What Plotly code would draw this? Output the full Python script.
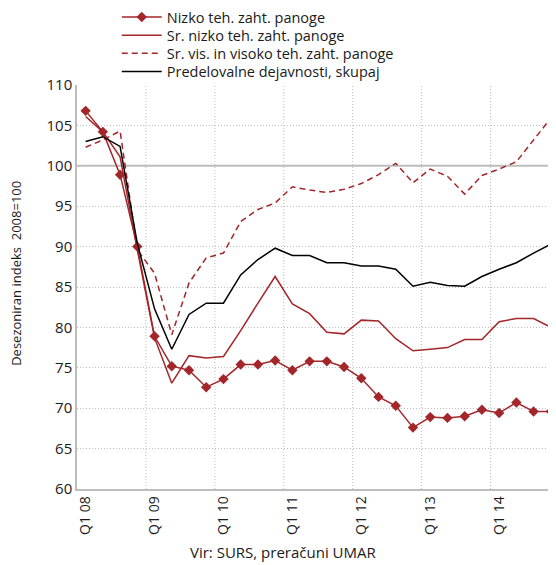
import plotly.graph_objects as go

quarters = [
    "Q1 08", "Q2 08", "Q3 08", "Q4 08",
    "Q1 09", "Q2 09", "Q3 09", "Q4 09",
    "Q1 10", "Q2 10", "Q3 10", "Q4 10",
    "Q1 11", "Q2 11", "Q3 11", "Q4 11",
    "Q1 12", "Q2 12", "Q3 12", "Q4 12",
    "Q1 13", "Q2 13", "Q3 13", "Q4 13",
    "Q1 14", "Q2 14", "Q3 14", "Q4 14",
]
tick_labels = ["Q1 08", "Q1 09", "Q1 10", "Q1 11", "Q1 12", "Q1 13", "Q1 14"]

nizko = [106.8, 104.2, 98.9, 90.0, 78.9, 75.2, 74.7, 72.6,
         73.6, 75.4, 75.4, 75.9, 74.7, 75.8, 75.8, 75.1,
         73.7, 71.4, 70.3, 67.6, 68.9, 68.8, 69.0, 69.8,
         69.4, 70.7, 69.6, 69.6]
sr_nizko = [106.1, 104.2, 101.1, 89.6, 78.7, 73.1, 76.5, 76.2,
            76.4, 79.6, 83.0, 86.3, 82.9, 81.7, 79.4, 79.2,
            80.9, 80.8, 78.6, 77.1, 77.3, 77.5, 78.5, 78.5,
            80.7, 81.1, 81.1, 80.0]
sr_visoko = [102.3, 103.2, 104.3, 89.6, 86.7, 79.1, 85.5, 88.6,
             89.2, 93.1, 94.6, 95.4, 97.4, 97.0, 96.7, 97.1,
             97.8, 98.9, 100.3, 97.9, 99.6, 98.7, 96.5, 98.8,
             99.6, 100.5, 103.2, 105.9]
skupaj = [103.0, 103.6, 102.4, 90.4, 82.3, 77.3, 81.6, 83.0,
          83.0, 86.5, 88.4, 89.8, 88.9, 88.9, 88.0, 88.0,
          87.6, 87.6, 87.2, 85.1, 85.6, 85.2, 85.1, 86.3,
          87.2, 88.0, 89.2, 90.3]

red = "#a3262a"
grid = "#bdbdbd"
font = "Open Sans"

fig = go.Figure()
fig.add_trace(go.Scatter(x=quarters, y=nizko, mode="lines+markers", name="Nizko teh. zaht. panoge",
                         line=dict(color=red, width=1.5),
                         marker=dict(symbol="diamond", size=8, color=red), legend="legend"))
fig.add_trace(go.Scatter(x=quarters, y=sr_nizko, mode="lines", name="Sr. nizko teh. zaht. panoge",
                         line=dict(color=red, width=1.5), legend="legend2"))
fig.add_trace(go.Scatter(x=quarters, y=sr_visoko, mode="lines", name="Sr. vis. in visoko teh. zaht. panoge",
                         line=dict(color=red, width=1.5, dash="6px,4px"), legend="legend3"))
fig.add_trace(go.Scatter(x=quarters, y=skupaj, mode="lines", name="Predelovalne dejavnosti, skupaj",
                         line=dict(color="black", width=1.5), legend="legend4"))

# vertical grid between Q4 and Q1
for k in range(1, 7):
    fig.add_vline(x=4 * k - 0.5, line=dict(color=grid, width=1, dash="1px,2px"), layer="below")
fig.add_hline(y=100, line=dict(color=grid, width=2), layer="below")

# one legend per row so the row spacing matches the original
legend_style = dict(x=0.083, xanchor="left", yanchor="middle", bgcolor="rgba(0,0,0,0)",
                    font=dict(size=14.5), itemwidth=40)

fig.update_layout(
    width=548, height=557,
    margin=dict(l=69, r=0, t=77, b=76, autoexpand=False),
    plot_bgcolor="white", paper_bgcolor="white",
    font=dict(family=font, size=14, color="#1a1a1a"),
    showlegend=True,
    legend=dict(y=1.168, **legend_style),
    legend2=dict(y=1.123, **legend_style),
    legend3=dict(y=1.0785, **legend_style),
    legend4=dict(y=1.033, **legend_style),
    annotations=[
        dict(text="Vir: SURS, preračuni UMAR", x=0.43, xref="paper", xanchor="center",
             y=-0.155, yref="paper", yanchor="middle", showarrow=False, font=dict(size=15)),
        dict(text="Desezoniran indeks  2008=100", x=-0.127, xref="paper", xanchor="center",
             y=0.533, yref="paper", yanchor="middle", textangle=-90, showarrow=False,
             font=dict(size=13)),
    ],
)

fig.update_xaxes(type="category", categoryorder="array", categoryarray=quarters,
                 tickmode="array", tickvals=tick_labels, ticktext=tick_labels,
                 tickangle=-90, showgrid=False, showline=True, linecolor=grid, linewidth=1.5,
                 ticks="", range=[-0.5, 27.3], tickfont=dict(size=14), automargin=False)
fig.update_yaxes(range=[60, 110], dtick=5, showgrid=True, gridcolor=grid, griddash="1px,2px",
                 gridwidth=1, showline=True, linecolor=grid, linewidth=1.5, ticks="",
                 zeroline=False, tickfont=dict(size=15), automargin=False)

fig.write_html("out.html")
